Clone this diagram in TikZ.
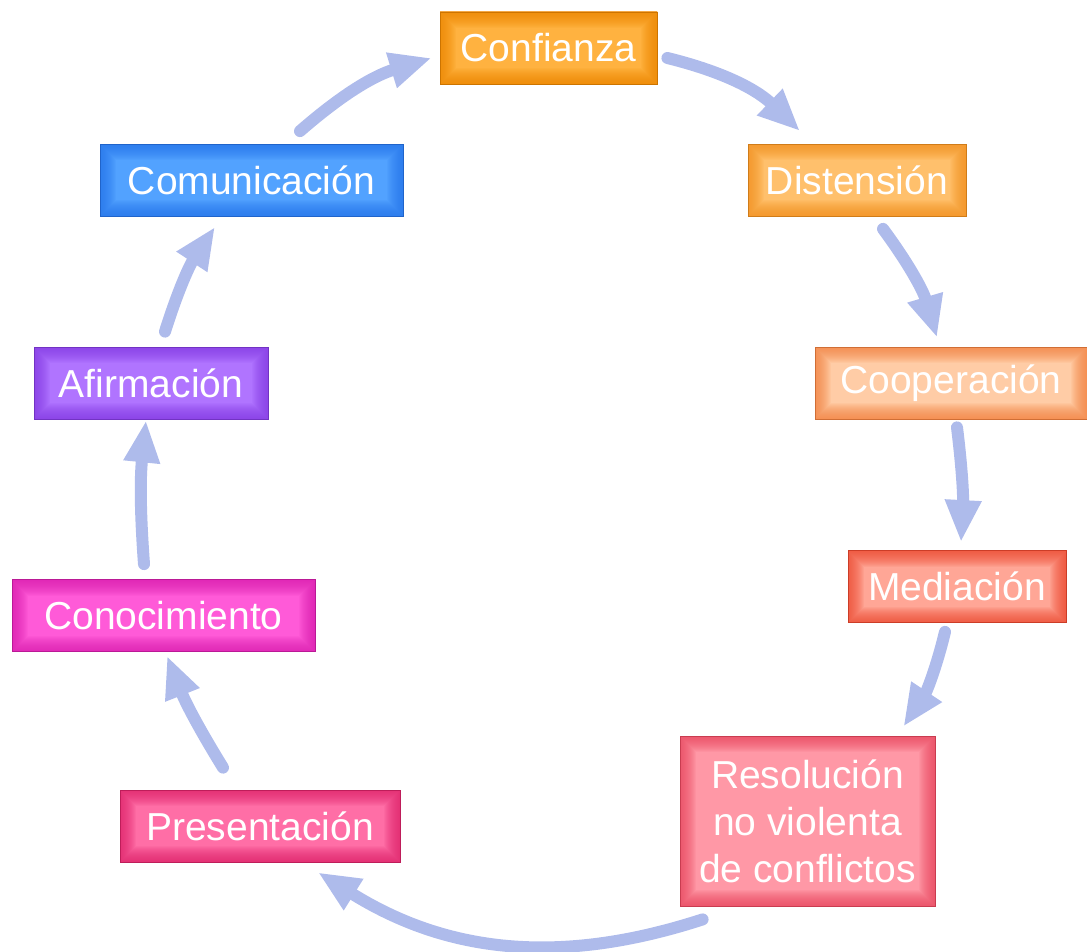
\documentclass[tikz,border=0pt]{standalone}
\usepackage{fontspec}
\setmainfont{Liberation Sans}
\usetikzlibrary{arrows.meta}

% colores: relleno / borde
\definecolor{confC}{RGB}{255,178,64}   \definecolor{confB}{RGB}{240,136,0}
\definecolor{distC}{RGB}{255,192,108}  \definecolor{distB}{RGB}{245,146,30}
\definecolor{coopC}{RGB}{255,204,166}  \definecolor{coopB}{RGB}{245,130,62}
\definecolor{mediC}{RGB}{255,166,150}  \definecolor{mediB}{RGB}{240,72,46}
\definecolor{resoC}{RGB}{255,152,166}  \definecolor{resoB}{RGB}{236,70,94}
\definecolor{presC}{RGB}{255,110,166}  \definecolor{presB}{RGB}{224,34,106}
\definecolor{conoC}{RGB}{255,90,216}   \definecolor{conoB}{RGB}{220,30,176}
\definecolor{afirC}{RGB}{176,116,255}  \definecolor{afirB}{RGB}{134,60,230}
\definecolor{comuC}{RGB}{82,162,255}   \definecolor{comuB}{RGB}{38,118,238}
\definecolor{flecha}{RGB}{174,187,235}

\begin{document}
\begin{tikzpicture}[x=0.5pt,y=-0.5pt,
    etapa/.style 2 args={rectangle, fill=#1, draw=#2!85!black, thin,
      minimum height=36pt, inner sep=0pt, text=white,
      font=\fontsize{19.5}{23.5}\selectfont,
      path picture={
        \foreach \w in {1,...,16}
          \draw[#2, line width=\w pt, opacity=0.08]
            (path picture bounding box.south west) rectangle
            (path picture bounding box.north east);
      }},
    flow/.style={draw=flecha, line width=6pt, line cap=round,
      -{Triangle[length=21pt,width=17pt]}}]

  \useasboundingbox (0,0) rectangle (1087,952);

  % etapas
  \node [etapa={confC}{confB}, minimum width=108.5pt] (conf) at (548.5,48) {Confianza};
  \node [etapa={distC}{distB}, minimum width=109pt] (dist) at (857,180.5) {Distensión};
  \node [etapa={coopC}{coopB}, minimum width=136pt] (coop) at (951,383) {Cooperación};
  \node [etapa={mediC}{mediB}, minimum width=109pt] (medi) at (957,586.5) {Mediación};
  \node [etapa={resoC}{resoB}, minimum width=127.5pt, minimum height=85pt,
         align=center] (reso) at (807.5,821) {Resolución\\no violenta\\de conflictos};
  \node [etapa={presC}{presB}, minimum width=140pt] (pres) at (260,826) {Presentación};
  \node [etapa={conoC}{conoB}, minimum width=151.5pt] (cono) at (163.5,615.5) {Conocimiento};
  \node [etapa={afirC}{afirB}, minimum width=117pt] (afir) at (151,383) {Afirmación};
  \node [etapa={comuC}{comuB}, minimum width=151.5pt] (comu) at (251.5,180.5) {Comunicación};

  % ciclo
  \draw [flow] ([shift={(10,10)}]conf.east) to [bend left=15] ([shift={(-57,-13)}]dist.north);
  \draw [flow] ([shift={(26,12)}]dist.south) to [bend left=10] ([shift={(-14,-9)}]coop.north);
  \draw [flow] ([shift={(6,8)}]coop.south) to [bend left=5] ([shift={(4,-8)}]medi.north);
  \draw [flow] ([shift={(-12,9)}]medi.south) to [bend left=10] ([shift={(-32,-9)}]reso.north east);
  \draw [flow] ([shift={(23,13)}]reso.south west) to [bend left=25] ([shift={(58,10)}]pres.south);
  \draw [flow] ([shift={(-37,-22)}]pres.north) to [bend left=5] ([shift={(3.5,4)}]cono.south);
  \draw [flow] ([shift={(-19.5,-15)}]cono.north) to [bend left=5] ([shift={(-5,1)}]afir.south);
  \draw [flow] ([shift={(14,-15)}]afir.north) to [bend left=8] ([shift={(-36.5,10)}]comu.south);
  \draw [flow] ([shift={(48.5,-13)}]comu.north) to [bend left=12] ([shift={(-8,10)}]conf.west);
\end{tikzpicture}
\end{document}
